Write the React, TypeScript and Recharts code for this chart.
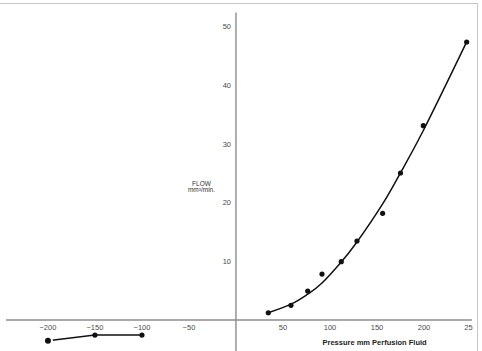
import { ComposedChart, Line, Scatter, XAxis, YAxis, ReferenceLine, ReferenceDot } from 'recharts';

// measured points, positive pressure
const pressureMeasured = [34.4, 58.5, 76.3, 91.5, 112, 128.7, 156, 175, 199.3, 245.4];
const flowMeasured = [1.24, 2.51, 4.94, 7.84, 9.94, 13.47, 18.19, 25.06, 33.12, 47.39];
// fitted curve read at the same pressures
const flowFitted = [1.24, 2.7, 4.4, 6.3, 9.9, 13.3, 19.8, 25.1, 32.3, 47.4];

// negative pressure
const pressureNegative = [-200, -150, -100];
const flowNegative = [-3.54, -2.56, -2.56];

const xTicks = [-200, -150, -100, -50, 50, 100, 150, 200, 250];
// the last label is cut to "25" in the original figure
const xTickLabels = ['\u2212200', '\u2212150', '\u2212100', '\u221250', '50', '100', '150', '200', '25'];
const yTicks = [10, 20, 30, 40, 50];

const measured = pressureMeasured.map((x, i) => ({ x, y: flowMeasured[i] }));
const fitted = pressureMeasured.map((x, i) => ({ x, y: flowFitted[i] }));
const negative = pressureNegative.map((x, i) => ({ x, y: flowNegative[i] }));

const FONT = '"Liberation Sans", Arial, sans-serif';
const INK = '#111';
const AXIS = '#8c8c8c';
const LABEL = '#4a4a4a';

const dotShape = (props: any) => <circle cx={props.cx} cy={props.cy} r={2.6} fill={INK} />;

export default function App() {
  return (
    <div style={{ position: 'absolute', left: 0, top: 0, width: 482, height: 351, overflow: 'hidden', background: '#fff', fontFamily: FONT }}>
      <div style={{ position: 'absolute', left: 0, top: 3, width: 477, height: 400, borderTop: '1px solid #c6c6c6', borderRight: '1px solid #c6c6c6' }} />
      <div style={{ position: 'absolute', left: 0, top: 0, width: 482, height: 351 }}>
        <ComposedChart width={482} height={351} margin={{ top: 0, right: 0, bottom: 0, left: 0 }}>
          <XAxis type="number" dataKey="x" hide domain={[-251, 261.7]} allowDataOverflow />
          <YAxis type="number" dataKey="y" hide domain={[-5.28, 54.55]} allowDataOverflow />
          <ReferenceLine segment={[{ x: -244.7, y: 0 }, { x: 251, y: 0 }]} stroke={AXIS} strokeWidth={1.4} />
          <ReferenceLine segment={[{ x: 0, y: 52.4 }, { x: 0, y: -5.28 }]} stroke={AXIS} strokeWidth={1.4} />
          {xTicks.map((t, i) => (
            <ReferenceDot key={'x' + t} x={t} y={0} r={0} fill="none" stroke="none"
              label={{ value: xTickLabels[i], position: 'bottom', offset: 5, fill: LABEL, fontSize: 7.5, fontFamily: FONT, dx: t === 250 ? -2.5 : 0 }} />
          ))}
          {yTicks.map((t) => (
            <ReferenceDot key={'y' + t} x={0} y={t} r={0} fill="none" stroke="none"
              label={{ value: String(t), position: 'left', offset: 5, fill: LABEL, fontSize: 7.5, fontFamily: FONT }} />
          ))}
          <Line data={fitted} dataKey="y" type="natural" stroke={INK} strokeWidth={1.5} dot={false} isAnimationActive={false} />
          <Line data={negative} dataKey="y" type="linear" stroke={INK} strokeWidth={1.5}
            dot={{ r: 2.6, fill: INK, stroke: INK, strokeWidth: 0 }} isAnimationActive={false} />
          <Scatter data={measured} shape={dotShape} isAnimationActive={false} />
        </ComposedChart>
      </div>
      <div style={{ position: 'absolute', left: 201.5, top: 179.5, transform: 'translateX(-50%)', fontSize: 6.5, lineHeight: '7px', color: '#333', whiteSpace: 'nowrap' }}>FLOW</div>
      <div style={{ position: 'absolute', left: 201.5, top: 186, transform: 'translateX(-50%)', fontSize: 6.5, lineHeight: '7px', color: '#333', whiteSpace: 'nowrap' }}>mm³/min.</div>
      <div style={{ position: 'absolute', left: 322.5, top: 338.5, fontSize: 7.5, lineHeight: '8px', fontWeight: 'bold', color: '#222', whiteSpace: 'nowrap' }}>Pressure mm Perfusion Fluid</div>
    </div>
  );
}
